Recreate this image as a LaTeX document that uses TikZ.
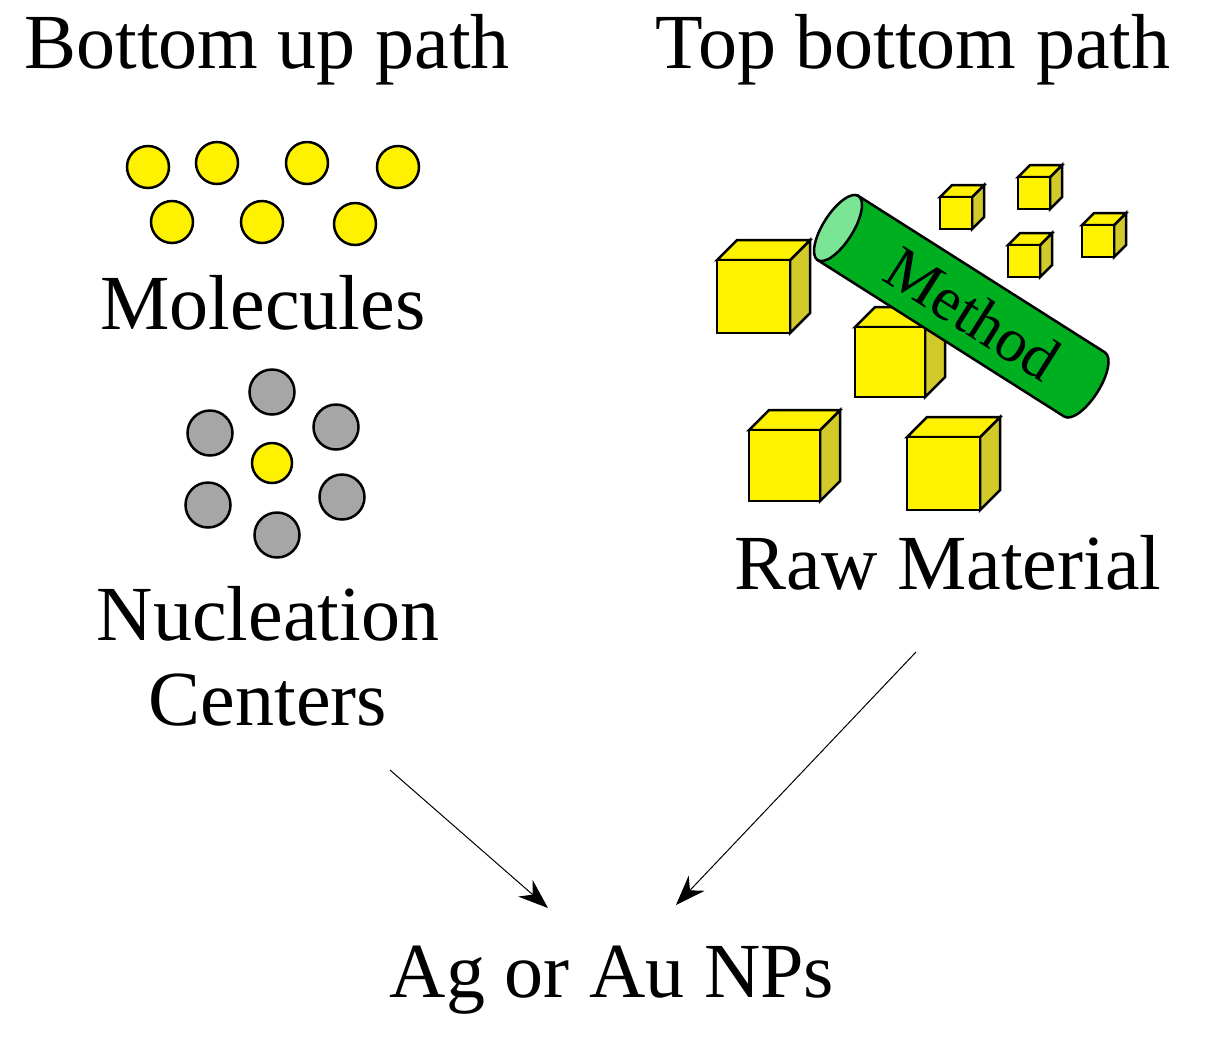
\documentclass[tikz,border=0pt]{standalone}
\usepackage{fontspec}
\setmainfont{Liberation Serif}
\usetikzlibrary{arrows.meta}
\begin{document}
\begin{tikzpicture}[x=1pt,y=1pt,
  lbl/.style={font=\fontsize{78}{84}\selectfont, inner sep=0pt},
  mol/.style={circle, draw=black, line width=2.5pt, fill=yellow, minimum size=42pt, inner sep=0pt},
  nuc/.style={circle, draw=black, line width=2.5pt, fill=gray!70, minimum size=45pt, inner sep=0pt},
  arr/.style={-{Stealth[length=30pt,width=22pt]}, line width=1pt}]
\useasboundingbox (0,0) rectangle (1214,-1053);
\newcommand\mycube[4]{% x y size depth (front top-left corner)
  \draw[line width=2.5pt, fill=yellow!80!black] (#1+#3,-#2) -- ++(#4,#4) -- ++(0,-#3) -- ++(-#4,-#4) -- cycle;
  \draw[line width=2.5pt, fill=yellow] (#1,-#2) -- ++(#4,#4) -- ++(#3,0) -- ++(-#4,-#4) -- cycle;
  \draw[line width=2.5pt, fill=yellow] (#1,-#2) rectangle ++(#3,-#3);
}
\node[lbl] (t1) at (267,-50) {Bottom up path};
\node[lbl] (t2) at (913,-50) {Top bottom path};
\foreach \x/\y [count=\i] in {148/167,217/163,307/163,398/167,172/222,262/222,355/224}
  \node[mol] (m\i) at (\x,-\y) {};
\node[lbl] (mol) at (263,-303) {Molecules};
\foreach \x/\y [count=\i] in {272/392,210/433,336/427,208/505,342/497,277/535}
  \node[nuc] (n\i) at (\x,-\y) {};
\node[mol, minimum size=40pt] (nc) at (272,-463) {};
\node[lbl] (nuc1) at (268,-614) {Nucleation};
\node[lbl] (nuc2) at (268,-700) {Centers};
\mycube{855}{327}{70}{20}
\mycube{1008}{245}{32}{12}
\mycube{940}{197}{32}{12}
\mycube{1018}{177}{32}{12}
\mycube{1082}{225}{32}{12}
\mycube{717}{260}{73}{20}
\begin{scope}[shift={(838,-228)}, rotate=-32.4]
  \draw[line width=2.5pt, fill=black!25!green!75!teal]
    (0,38) -- (292,38) arc[start angle=90, end angle=-90, x radius=15, y radius=38] -- (0,-38) -- cycle;
  \draw[line width=2.5pt, fill=green!40!white!80!teal] (0,0) ellipse[x radius=15, y radius=38];
  \node[font=\fontsize{62}{66}\selectfont, inner sep=0pt, rotate=-32.4] (meth) at (160,0) {Method};
\end{scope}
\mycube{749}{430}{71}{20}
\mycube{907}{437}{73}{20}
\node[lbl] (raw) at (948,-563) {Raw Material};
\node[lbl] (np) at (612,-980) {Ag or Au NPs};
\coordinate (a1) at (390,-770);
\coordinate (a2) at (548,-908);
\coordinate (b1) at (916,-652);
\coordinate (b2) at (676,-905);
\draw[arr] (a1) -- (a2);
\draw[arr] (b1) -- (b2);
\end{tikzpicture}
\end{document}
